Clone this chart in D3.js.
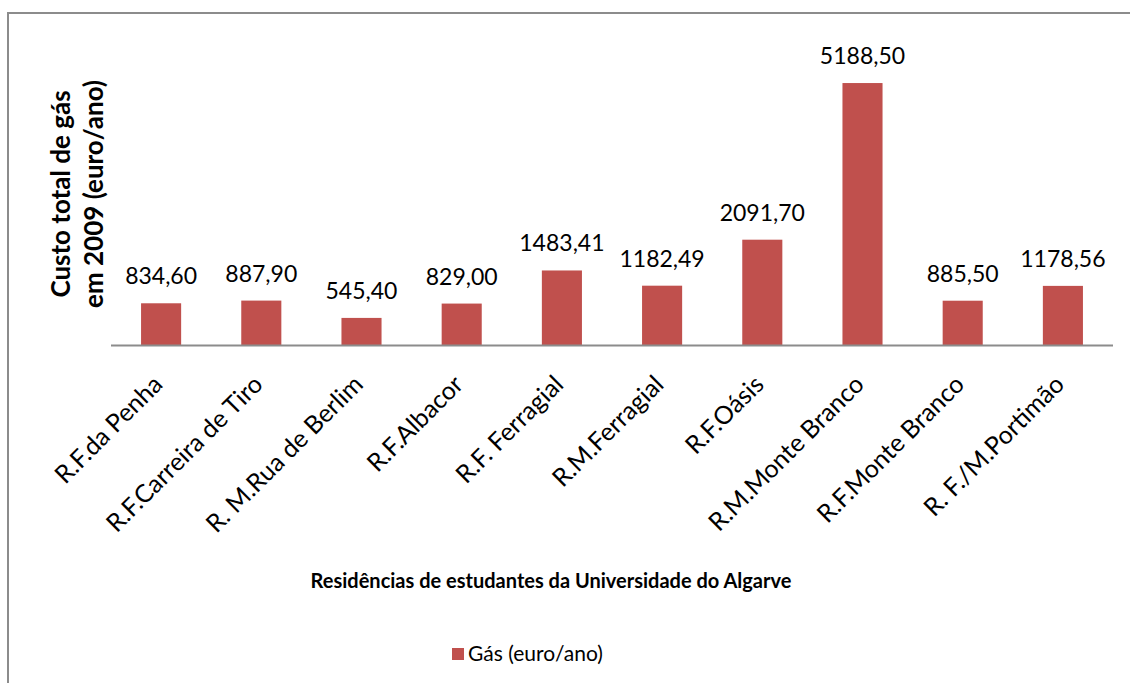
<!DOCTYPE html>
<html>
<head>
<meta charset="utf-8">
<script src="https://cdn.jsdelivr.net/npm/d3@7"></script>
<style>
  body { margin: 0; background: #fff; }
  text { font-family: Lato, "Open Sans", sans-serif; fill: #000; }
</style>
</head>
<body>
<div id="chart"></div>
<script>
// residences and yearly gas cost
var residences = ["R.F.da Penha", "R.F.Carreira de Tiro", "R. M.Rua de Berlim", "R.F.Albacor",
  "R.F. Ferragial", "R.M.Ferragial", "R.F.Oásis", "R.M.Monte Branco", "R.F.Monte Branco", "R. F./M.Portimão"]
var gasCost = [834.60, 887.90, 545.40, 829.00, 1483.41, 1182.49, 2091.70, 5188.50, 885.50, 1178.56]
var seriesName = "Gás (euro/ano)"
var yTitle = ["Custo total de gás", "em 2009 (euro/ano)"]
var xTitle = "Residências de estudantes da Universidade do Algarve"

var width = 1130, height = 683
var barColor = "#C0504D"

var svg = d3.select("#chart").append("svg")
  .attr("width", width)
  .attr("height", height)

// outer chart frame
svg.append("rect")
  .attr("x", 8).attr("y", 13)
  .attr("width", 1140).attr("height", 700)
  .attr("fill", "none")
  .attr("stroke", "#8c8c8c")
  .attr("stroke-width", 2)

var x = d3.scaleBand()
  .domain(residences)
  .range([111, 1113])
  .paddingInner(0.6)
  .paddingOuter(0.3)

var y = d3.scaleLinear()
  .domain([0, 6000])
  .range([345.5, 42])

var fmt = function(v){ return d3.format(".2f")(v).replace(".", ",") }

svg.append("g")
  .selectAll("rect")
  .data(gasCost)
  .enter()
  .append("rect")
  .attr("x", (d, i) => x(residences[i]))
  .attr("y", d => y(d))
  .attr("width", x.bandwidth())
  .attr("height", d => y(0) - y(d))
  .attr("fill", barColor)

// value labels
svg.append("g")
  .selectAll("text")
  .data(gasCost)
  .enter()
  .append("text")
  .attr("x", (d, i) => x(residences[i]) + x.bandwidth() / 2)
  .attr("y", d => y(d) - 19)
  .attr("text-anchor", "middle")
  .style("font-size", "23px")
  .text(d => fmt(d))

// baseline
svg.append("line")
  .attr("x1", 111).attr("x2", 1113)
  .attr("y1", y(0)).attr("y2", y(0))
  .attr("stroke", "#8c8c8c")
  .attr("stroke-width", 2)

// category labels, rotated
svg.append("g")
  .selectAll("text")
  .data(residences)
  .enter()
  .append("text")
  .attr("transform", d => "translate(" + (x(d) + x.bandwidth() / 2 + 3) + ",386) rotate(-45)")
  .attr("text-anchor", "end")
  .style("font-size", "25px")
  .text(d => d)

// y title
var yt = svg.append("text")
  .attr("transform", "translate(0,194) rotate(-90)")
  .attr("text-anchor", "middle")
  .style("font-size", "26px")
  .style("font-weight", "bold")
yt.append("tspan").attr("x", 0).attr("y", 70).text(yTitle[0])
yt.append("tspan").attr("x", 0).attr("y", 103).text(yTitle[1])

// x title
svg.append("text")
  .attr("x", 551).attr("y", 588)
  .attr("text-anchor", "middle")
  .style("font-size", "20px")
  .style("font-weight", "bold")
  .text(xTitle)

// legend
svg.append("rect")
  .attr("x", 452).attr("y", 648)
  .attr("width", 12).attr("height", 12)
  .attr("fill", barColor)
svg.append("text")
  .attr("x", 468).attr("y", 661)
  .style("font-size", "21px")
  .text(seriesName)
</script>
</body>
</html>
